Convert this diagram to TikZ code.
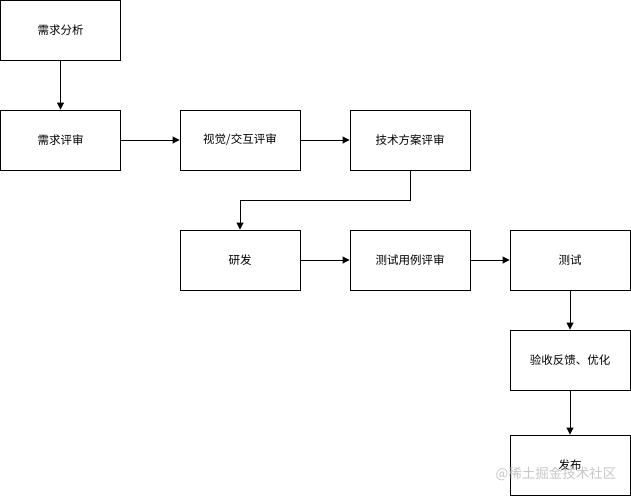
\documentclass[tikz,border=0pt]{standalone}
\usepackage{fontspec}
\newfontfamily\cjk{Noto Sans CJK SC}
\usetikzlibrary{arrows.meta}
\begin{document}
\begin{tikzpicture}[x=1pt, y=-1pt,
  stage/.style={draw, fill=white, line width=0.9pt, minimum width=120pt, minimum height=60pt,
    inner sep=0pt, font=\cjk\fontsize{11.5}{14}\selectfont},
  flow/.style={-{Triangle[length=7pt, width=7pt]}, line width=0.9pt}]

  \useasboundingbox (0,0) rectangle (631,496);

  \node[stage] (xqfx) at (60.5, 30.3) {需求分析};
  \node[stage] (xqps) at (60.5, 140) {需求评审};
  \node[stage] (sjps) at (240, 140) {视觉/交互评审};
  \node[stage] (jsps) at (410, 140) {技术方案评审};
  \node[stage] (yf)   at (240, 260) {研发};
  \node[stage] (ylps) at (410, 260) {测试用例评审};
  \node[stage] (cs)   at (570, 260) {测试};
  \node[stage] (ys)   at (570, 360) {验收反馈、优化};
  \node[stage] (fb)   at (570, 465) {发布};

  \draw[flow] (xqfx) -- (xqps); %% fx->ps
  \draw[flow] (xqps) -- (sjps);
  \draw[flow] (sjps) -- (jsps);
  \draw[flow] (jsps.south) -- ++(0,30) -| (yf.north); %% js->yf
  \draw[flow] (yf) -- (ylps);
  \draw[flow] (ylps) -- (cs);
  \draw[flow] (cs) -- (ys);
  \draw[flow] (ys) -- (fb);

  % watermark
  \node[text=gray!55, opacity=0.8, inner sep=0pt, font=\cjk\fontsize{13.5}{16}\selectfont] (mark) at (556, 474) {@稀土掘金技术社区};
\end{tikzpicture}
\end{document}
